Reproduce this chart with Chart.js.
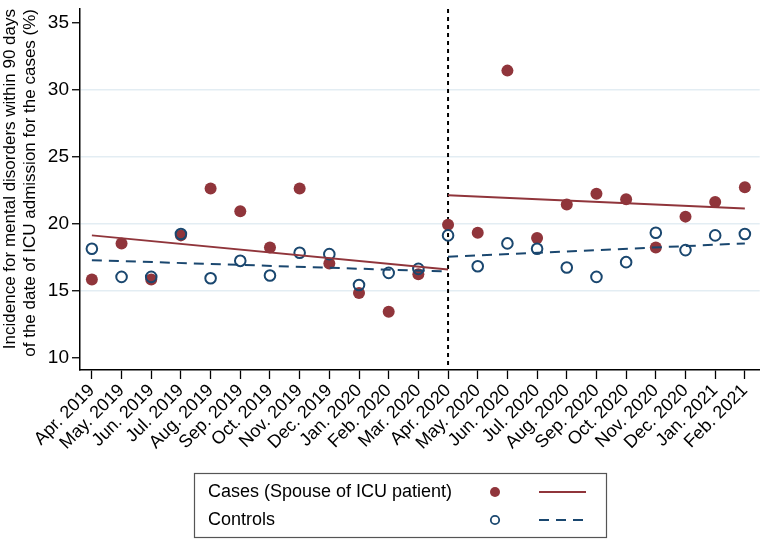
<!DOCTYPE html>
<html>
<head>
<meta charset="utf-8">
<script src="https://cdn.jsdelivr.net/npm/chart.js@4.4.1/dist/chart.umd.min.js"></script>
<style>
  html, body { margin: 0; padding: 0; background: #fff; }
  #box { width: 767px; height: 541px; }
</style>
</head>
<body>
<div id="box"><canvas id="myChart"></canvas></div>
<script>
// months on the x axis
var months = ["Apr. 2019", "May. 2019", "Jun. 2019", "Jul. 2019", "Aug. 2019", "Sep. 2019",
  "Oct. 2019", "Nov. 2019", "Dec. 2019", "Jan. 2020", "Feb. 2020", "Mar. 2020", "Apr. 2020",
  "May. 2020", "Jun. 2020", "Jul. 2020", "Aug. 2020", "Sep. 2020", "Oct. 2020", "Nov. 2020",
  "Dec. 2020", "Jan. 2021", "Feb. 2021"];

// incidence (%)
var cases = [15.8, 18.5, 15.8, 19.1, 22.6, 20.9, 18.2, 22.6, 17.0, 14.8, 13.4, 16.2, 19.9,
  19.3, 31.4, 18.9, 21.4, 22.2, 21.8, 18.2, 20.5, 21.6, 22.7];
var controls = [18.1, 16.0, 16.0, 19.2, 15.9, 17.2, 16.1, 17.8, 17.7, 15.4, 16.3, 16.6, 19.1,
  16.8, 18.5, 18.1, 16.7, 16.0, 17.1, 19.3, 18.0, 19.1, 19.2];

// fitted lines: value at start and end of each period
var breakIndex = 12;
var casesFitPre = [19.1, 16.55];
var casesFitPost = [22.1, 21.1];
var controlsFitPre = [17.25, 16.4];
var controlsFitPost = [17.5, 18.5];

var yTicks = [10, 15, 20, 25, 30, 35];

var red = "#90353b";
var navy = "#1a476f";
var font = "'Liberation Sans', Arial, sans-serif";

function pts(arr) {
  return arr.map(function (v, i) { return { x: i, y: v }; });
}
function seg(a, b, vals) {
  return [{ x: a, y: vals[0] }, { x: b, y: vals[1] }];
}

// vertical dashed line at the break
var breakLine = {
  id: "breakLine",
  beforeDatasetsDraw: function (chart) {
    var c = chart.ctx, area = chart.chartArea;
    var x = chart.scales.x.getPixelForValue(breakIndex);
    c.save();
    c.strokeStyle = "#000";
    c.lineWidth = 2;
    c.setLineDash([4, 4]);
    c.beginPath();
    c.moveTo(x, area.top);
    c.lineTo(x, area.bottom);
    c.stroke();
    c.restore();
  }
};

// legend box under the chart
var boxLegend = {
  id: "boxLegend",
  afterDraw: function (chart) {
    var c = chart.ctx;
    c.save();
    c.strokeStyle = "#555";
    c.lineWidth = 1.2;
    c.strokeRect(194.5, 473.5, 412, 64);
    c.fillStyle = "#000";
    c.font = "18px " + font;
    c.textBaseline = "middle";
    c.fillText("Cases (Spouse of ICU patient)", 208, 492);
    c.fillText("Controls", 208, 520);
    c.fillStyle = red;
    c.beginPath();
    c.arc(495, 492, 5, 0, Math.PI * 2);
    c.fill();
    c.strokeStyle = navy;
    c.lineWidth = 1.8;
    c.beginPath();
    c.arc(495, 520, 4.2, 0, Math.PI * 2);
    c.stroke();
    c.strokeStyle = red;
    c.lineWidth = 2;
    c.beginPath();
    c.moveTo(539, 492);
    c.lineTo(586, 492);
    c.stroke();
    c.strokeStyle = navy;
    c.setLineDash([10, 7]);
    c.beginPath();
    c.moveTo(539, 520);
    c.lineTo(586, 520);
    c.stroke();
    c.restore();
  }
};

var canvas = document.getElementById("myChart");
var myChart = new Chart(canvas, {
  type: "scatter",
  data: {
    datasets: [
      { type: "line", data: seg(0, breakIndex, casesFitPre), borderColor: red, borderWidth: 2, pointRadius: 0 },
      { type: "line", data: seg(breakIndex, months.length - 1, casesFitPost), borderColor: red, borderWidth: 2, pointRadius: 0 },
      { type: "line", data: seg(0, breakIndex, controlsFitPre), borderColor: navy, borderWidth: 2, borderDash: [10, 7], pointRadius: 0 },
      { type: "line", data: seg(breakIndex, months.length - 1, controlsFitPost), borderColor: navy, borderWidth: 2, borderDash: [10, 7], pointRadius: 0 },
      { label: "Controls", data: pts(controls), borderColor: navy, backgroundColor: "rgba(0,0,0,0)", borderWidth: 2, pointRadius: 5.3 },
      { label: "Cases (Spouse of ICU patient)", data: pts(cases), borderColor: red, backgroundColor: red, borderWidth: 0, pointRadius: 6 }
    ]
  },
  options: {
    responsive: true,
    maintainAspectRatio: false,
    animation: false,
    layout: { padding: { top: 9, left: 0, right: 0, bottom: 0 } },
    plugins: { legend: { display: false }, tooltip: { enabled: false } },
    scales: {
      x: {
        type: "linear",
        min: -0.4,
        max: 22.5,
        afterBuildTicks: function (s) { s.ticks = months.map(function (m, i) { return { value: i }; }); },
        afterFit: function (s) { s.height = 171; s.paddingLeft = 0; s.paddingRight = 0; },
        ticks: {
          autoSkip: false,
          minRotation: 45,
          maxRotation: 45,
          color: "#000",
          padding: 1,
          font: { family: font, size: 18 },
          callback: function (v) { return months[v]; }
        },
        grid: { drawOnChartArea: false, tickColor: "#000", tickLength: 9, tickWidth: 1.3 },
        border: { color: "#000", width: 1.5 }
      },
      y: {
        min: 9.05,
        max: 36,
        afterBuildTicks: function (s) { s.ticks = yTicks.map(function (v) { return { value: v }; }); },
        afterFit: function (s) { s.width = 80; s.paddingTop = 0; s.paddingBottom = 0; },
        ticks: { color: "#000", padding: 3, font: { family: font, size: 19 } },
        grid: {
          color: function (ctx) { return (ctx.tick && (ctx.tick.value === 10 || ctx.tick.value === 35)) ? "rgba(0,0,0,0)" : "#e3edf3"; },
          lineWidth: 1.5,
          tickColor: "#000",
          tickLength: 8,
          tickWidth: 1.3
        },
        border: { color: "#000", width: 1.5 },
        title: {
          display: true,
          align: "end",
          text: ["Incidence for mental disorders within 90 days", "of the date of ICU admission for the cases (%)"],
          color: "#000",
          font: { family: font, size: 17 },
          padding: { top: 0, bottom: 0 }
        }
      }
    }
  },
  plugins: [breakLine, boxLegend]
});
</script>
</body>
</html>
